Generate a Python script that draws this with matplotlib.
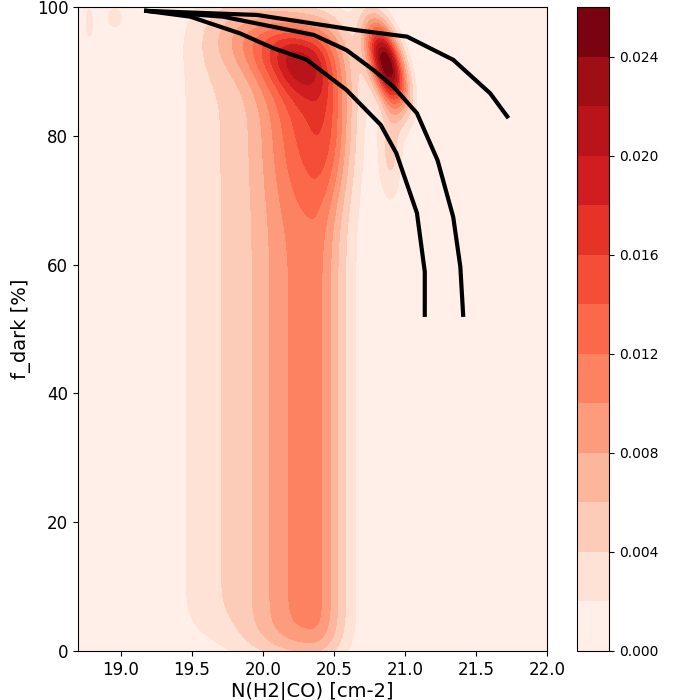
import numpy as np
import matplotlib
matplotlib.use("Agg")
import matplotlib.pyplot as plt
from math import erf

# ---- data ----
# contour levels of the density
levels = [0.000, 0.002, 0.004, 0.006, 0.008, 0.010, 0.012, 0.014,
          0.016, 0.018, 0.020, 0.022, 0.024, 0.026]
cbar_ticks = [0.000, 0.004, 0.008, 0.012, 0.016, 0.020, 0.024]

# vertical band components (uniform in f_dark between y0 and y1)
band_amp = [0.0110, 0.0020, 0.0040]
band_cx = [20.34, 19.60, 20.33]
band_sxl = [0.36, 0.17, 0.20]
band_sxr = [0.17, 0.17, 0.20]
band_y0 = [-0.5, 3.0, 72.0]
band_y1 = [97.0, 97.0, 97.0]
band_sy = [3.0, 3.0, 6.0]

# gaussian blob components
blob_amp = [0.0070, 0.0030, 0.0025, 0.0255, 0.0045, 0.0028, 0.0028]
blob_cx = [20.05, 20.50, 20.25, 20.87, 20.90, 18.78, 18.96]
blob_cy = [94.0, 80.0, 91.0, 91.2, 78.0, 97.5, 98.3]
blob_sx = [0.30, 0.10, 0.12, 0.095, 0.06, 0.025, 0.055]
blob_sy = [5.5, 7.0, 3.0, 4.5, 6.0, 2.5, 1.6]
blob_rho = [-0.5, 0.0, -0.3, -0.55, 0.0, 0.0, 0.0]

# model curves
curve1_x = [19.18, 19.49, 19.84, 20.075, 20.31, 20.59, 20.83, 20.94, 21.085, 21.14, 21.14]
curve1_y = [99.4, 98.5, 95.9, 93.6, 91.8, 87.1, 81.7, 77.3, 68.0, 58.9, 52.2]
curve2_x = [19.18, 19.72, 20.36, 20.59, 20.78, 20.92, 21.085, 21.23, 21.34, 21.39, 21.41]
curve2_y = [99.4, 98.5, 95.65, 93.3, 90.2, 87.6, 83.5, 76.2, 67.4, 59.7, 52.2]
curve3_x = [19.18, 19.96, 20.66, 21.015, 21.34, 21.60, 21.72]
curve3_y = [99.4, 98.76, 96.4, 95.4, 91.8, 86.6, 83.0]

# ---- density field ----
xg = np.linspace(18.7, 22.0, 500)
yg = np.linspace(0, 100, 500)
X, Y = np.meshgrid(xg, yg)
verf = np.vectorize(erf)

Z = np.zeros_like(X)
for a, cx, sl, sr, y0, y1, sy in zip(band_amp, band_cx, band_sxl, band_sxr,
                                      band_y0, band_y1, band_sy):
    s = np.where(X < cx, sl, sr)
    gx = np.exp(-(X - cx) ** 2 / (2 * s ** 2))
    gy = 0.5 * (verf((Y - y0) / (np.sqrt(2) * sy)) - verf((Y - y1) / (np.sqrt(2) * sy)))
    Z += a * gx * gy
for a, cx, cy, sx, sy, r in zip(blob_amp, blob_cx, blob_cy, blob_sx, blob_sy, blob_rho):
    dx = (X - cx) / sx
    dy = (Y - cy) / sy
    q = (dx ** 2 - 2 * r * dx * dy + dy ** 2) / (1 - r ** 2)
    Z += a * np.exp(-0.5 * q)
Z = np.clip(Z, 1e-7, levels[-1] - 1e-6)

# ---- plot ----
fig = plt.figure(figsize=(7, 7), dpi=100)
ax = fig.add_axes([78 / 700, 49 / 700, 469 / 700, 644 / 700])
cax = fig.add_axes([577 / 700, 49 / 700, 32 / 700, 644 / 700])

cs = ax.contourf(X, Y, Z, levels=levels, cmap="Reds")
for cxs, cys in [(curve1_x, curve1_y), (curve2_x, curve2_y), (curve3_x, curve3_y)]:
    ax.plot(cxs, cys, color="black", lw=3)

ax.set_xlim(18.7, 22.0)
ax.set_ylim(0, 100)
ax.set_xticks([19.0, 19.5, 20.0, 20.5, 21.0, 21.5, 22.0])
ax.set_xticklabels(["19.0", "19.5", "20.0", "20.5", "21.0", "21.5", "22.0"])
ax.set_yticks([0, 20, 40, 60, 80, 100])
ax.tick_params(labelsize=12)
ax.set_xlabel("N(H2|CO) [cm-2]", fontsize=14, labelpad=2)
ax.set_ylabel("f_dark [%]", fontsize=14)

cb = fig.colorbar(cs, cax=cax, ticks=cbar_ticks)
cb.ax.set_yticklabels([f"{t:.3f}" for t in cbar_ticks])
cb.ax.tick_params(labelsize=10)

fig.savefig("out.png", dpi=100)
